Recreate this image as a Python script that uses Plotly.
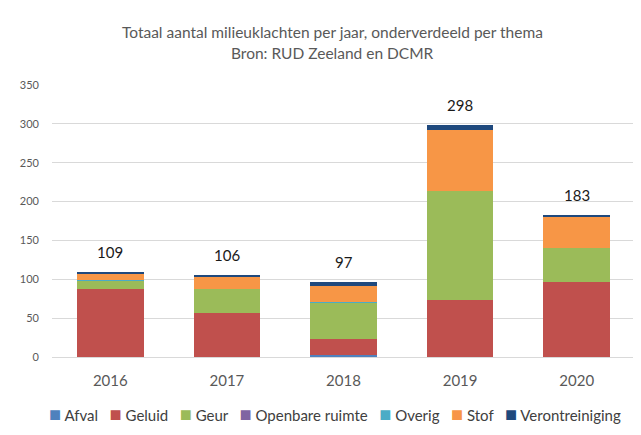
import plotly.graph_objects as go

years = ["2016", "2017", "2018", "2019", "2020"]
themes = ["Afval", "Geluid", "Geur", "Openbare ruimte", "Overig", "Stof", "Verontreiniging"]
afval = [0, 0, 2, 0, 0]
geluid = [87, 57, 21, 73, 97]
geur = [11, 30, 47, 140, 43]
openbare_ruimte = [0, 0, 0, 0, 0]
overig = [1, 0, 1, 0, 0]
stof = [9, 17, 21, 79, 41]
verontreiniging = [1, 2, 5, 6, 2]
totals = [109, 106, 97, 298, 183]
title_lines = ["Totaal aantal milieuklachten per jaar, onderverdeeld per thema", "Bron: RUD Zeeland en DCMR"]

series = [afval, geluid, geur, openbare_ruimte, overig, stof, verontreiniging]
colors = ["#4F81BD", "#C0504D", "#9BBB59", "#8064A2", "#4BACC6", "#F79646", "#1F497D"]

W, H = 641, 435
OFF = 8  # page body margin offset
# target plot area in page pixels: x 45..635, y 85..357
ML = 45 - OFF
MT = 85 - OFF
MR = W - (635 - OFF)
MB = H - (357 - OFF)
plot_w = W - ML - MR
plot_h = H - MT - MB


def py(p):  # page pixel y -> paper y
    return (H - MB - (p - OFF)) / plot_h


def px(p):  # page pixel x -> paper x
    return ((p - OFF) - ML) / plot_w


font_family = "Lato, 'Open Sans', sans-serif"

fig = go.Figure()
for name, vals, col in zip(themes, series, colors):
    fig.add_trace(go.Bar(x=years, y=vals, name=name, showlegend=False,
                         marker=dict(color=col, line=dict(width=0))))

annotations = []
for i, tot in enumerate(totals):
    annotations.append(dict(x=i, y=tot, xref="x", yref="y", text=str(tot), showarrow=False,
                            yanchor="bottom", yshift=9,
                            font=dict(size=15, color="#1a1a1a", family=font_family)))

annotations.append(dict(x=px(329), y=py(43), xref="paper", yref="paper", text=title_lines[0],
                        showarrow=False, xanchor="center", yanchor="bottom",
                        font=dict(size=15.5, color="#595959", family=font_family)))
annotations.append(dict(x=px(329), y=py(42), xref="paper", yref="paper", text=title_lines[1],
                        showarrow=False, xanchor="center", yanchor="top",
                        font=dict(size=15.5, color="#595959", family=font_family)))

legend_text = "&nbsp;&nbsp;&nbsp;".join(
    f'<span style="color:{c};font-size:20px">■</span> {n}' for n, c in zip(themes, colors)
)
annotations.append(dict(x=px(331), y=py(413), xref="paper", yref="paper", text=legend_text,
                        showarrow=False, xanchor="center", yanchor="middle",
                        font=dict(size=15, color="#404040", family=font_family)))

fig.update_layout(
    barmode="stack",
    bargap=0.43,
    width=W, height=H,
    margin=dict(l=ML, r=MR, t=MT, b=MB),
    paper_bgcolor="white", plot_bgcolor="white",
    font=dict(family=font_family, color="#595959"),
    showlegend=False,
    annotations=annotations,
    xaxis=dict(type="category", showgrid=False, showline=True, linecolor="#d9d9d9", linewidth=1,
               tickfont=dict(size=15, color="#595959"), ticks="", ticklabelstandoff=10),
    yaxis=dict(range=[0, 350], dtick=50, showgrid=True, gridcolor="#d9d9d9", gridwidth=1,
               zeroline=False, tickfont=dict(size=11, color="#595959"),
               ticklabelstandoff=12, showline=False),
)

fig.write_html("out.html")
